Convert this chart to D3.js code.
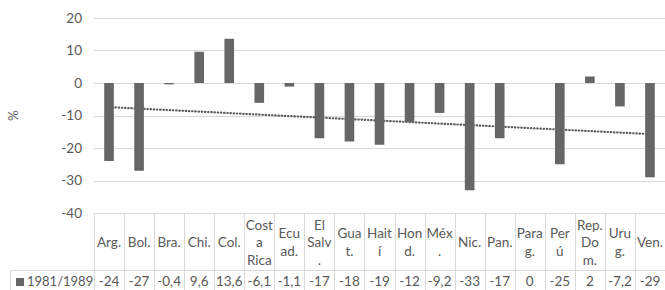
<!DOCTYPE html>
<html>
<head>
<meta charset="utf-8">
<script src="https://cdn.jsdelivr.net/npm/d3@7"></script>
<style>
  body { margin: 0; background: #fff; }
  text { font-family: Lato, "Liberation Sans", sans-serif; fill: #595959; }
</style>
</head>
<body>
<div id="chart"></div>
<script>
var categories = ["Arg.", "Bol.", "Bra.", "Chi.", "Col.", "Cost\na\nRica", "Ecu\nad.", "El\nSalv\n.",
  "Gua\nt.", "Hait\ní", "Hon\nd.", "Méx\n.", "Nic.", "Pan.", "Para\ng.", "Per\nú", "Rep.\nDo\nm.", "Uru\ng.", "Ven."];
var values = [-24, -27, -0.4, 9.6, 13.6, -6.1, -1.1, -17, -18, -19, -12, -9.2, -33, -17, 0, -25, 2, -7.2, -29];
var seriesName = "1981/1989";
var yTicks = [20, 10, 0, -10, -20, -30, -40];

(function() {

var width = 665, height = 290,
    plotLeft = 94, plotRight = 665, plotTop = 18, plotBottom = 213,
    headerBottom = 270, legendLeft = 10;

var svg = d3.select("#chart").append("svg")
    .attr("width", width)
    .attr("height", height);

var x = d3.scaleBand()
    .domain(d3.range(categories.length))
    .range([plotLeft, plotRight]);

var y = d3.scaleLinear()
    .domain([-40, 20])
    .range([plotBottom, plotTop]);

var barW = x.bandwidth() * 0.32;

// gridlines
svg.append("g")
  .selectAll("line")
  .data(yTicks)
  .join("line")
    .attr("x1", plotLeft)
    .attr("x2", plotRight)
    .attr("y1", function(d) { return Math.round(y(d)) + 0.5; })
    .attr("y2", function(d) { return Math.round(y(d)) + 0.5; })
    .attr("stroke", "#d9d9d9")
    .attr("stroke-width", 1);

// y labels
svg.append("g")
  .selectAll("text")
  .data(yTicks)
  .join("text")
    .attr("x", 82)
    .attr("y", function(d) { return y(d); })
    .attr("dy", "0.35em")
    .attr("text-anchor", "end")
    .attr("font-size", 13.5)
    .text(function(d) { return d; });

svg.append("text")
    .attr("transform", "translate(13," + y(-10) + ") rotate(-90)")
    .attr("text-anchor", "middle")
    .attr("dy", "0.35em")
    .attr("font-size", 13.5)
    .text("%");

// trend line (least squares, like Excel's linear trendline)
var n = values.length,
    mx = d3.mean(d3.range(n)),
    my = d3.mean(values),
    slope = d3.sum(values, function(v, i) { return (i - mx) * (v - my); }) /
            d3.sum(d3.range(n), function(i) { return (i - mx) * (i - mx); }),
    icpt = my - slope * mx;

var trend = d3.line()
    .x(function(i) { return x(i) + x.bandwidth() / 2; })
    .y(function(i) { return y(icpt + slope * i); });

svg.append("path")
    .datum([0, n - 1])
    .attr("fill", "none")
    .attr("stroke", "#595959")
    .attr("stroke-width", 2.2)
    .attr("stroke-linecap", "round")
    .attr("stroke-dasharray", "0.4 2.8")
    .attr("d", trend);

// bars
svg.append("g")
  .selectAll("rect")
  .data(values)
  .join("rect")
    .attr("x", function(d, i) { return x(i) + (x.bandwidth() - barW) / 2; })
    .attr("width", barW)
    .attr("y", function(d) { return y(Math.max(0, d)); })
    .attr("height", function(d) { return Math.abs(y(d) - y(0)); })
    .attr("fill", "#666666");

// data table
var table = svg.append("g").attr("stroke", "#d9d9d9").attr("stroke-width", 1);

table.selectAll("line.v")
  .data(d3.range(n + 1))
  .join("line")
    .attr("x1", function(i) { return Math.round(plotLeft + i * x.step()) + 0.5; })
    .attr("x2", function(i) { return Math.round(plotLeft + i * x.step()) + 0.5; })
    .attr("y1", plotBottom)
    .attr("y2", height);

table.append("line")
    .attr("x1", legendLeft).attr("x2", plotRight)
    .attr("y1", headerBottom + 0.5).attr("y2", headerBottom + 0.5);

table.append("line")
    .attr("x1", legendLeft + 0.5).attr("x2", legendLeft + 0.5)
    .attr("y1", headerBottom).attr("y2", height);

// header labels
var fs = 13.5, lineH = 17.5;
svg.append("g")
  .selectAll("text")
  .data(categories)
  .join("text")
    .attr("text-anchor", "middle")
    .attr("font-size", fs)
    .attr("x", function(d, i) { return x(i) + x.bandwidth() / 2; })
    .attr("y", (plotBottom + headerBottom) / 2 + 1)
    .each(function(d) {
      var lines = d.split("\n");
      var t = d3.select(this);
      lines.forEach(function(l, k) {
        t.append("tspan")
          .attr("x", t.attr("x"))
          .attr("dy", k === 0 ? ((-(lines.length - 1) / 2) * lineH / fs + 0.35) + "em" : (lineH / fs) + "em")
          .text(l);
      });
    });

// values row
var fmt = function(v) { return String(v).replace(".", ","); };
svg.append("g")
  .selectAll("text")
  .data(values)
  .join("text")
    .attr("text-anchor", "middle")
    .attr("font-size", fs)
    .attr("x", function(d, i) { return x(i) + x.bandwidth() / 2; })
    .attr("y", 281)
    .attr("dy", "0.35em")
    .text(fmt);

svg.append("rect")
    .attr("x", 16).attr("y", 278)
    .attr("width", 8).attr("height", 8)
    .attr("fill", "#666666");

svg.append("text")
    .attr("x", 27)
    .attr("y", 281)
    .attr("dy", "0.35em")
    .attr("font-size", 13)
    .text(seriesName);

}());
</script>
</body>
</html>
